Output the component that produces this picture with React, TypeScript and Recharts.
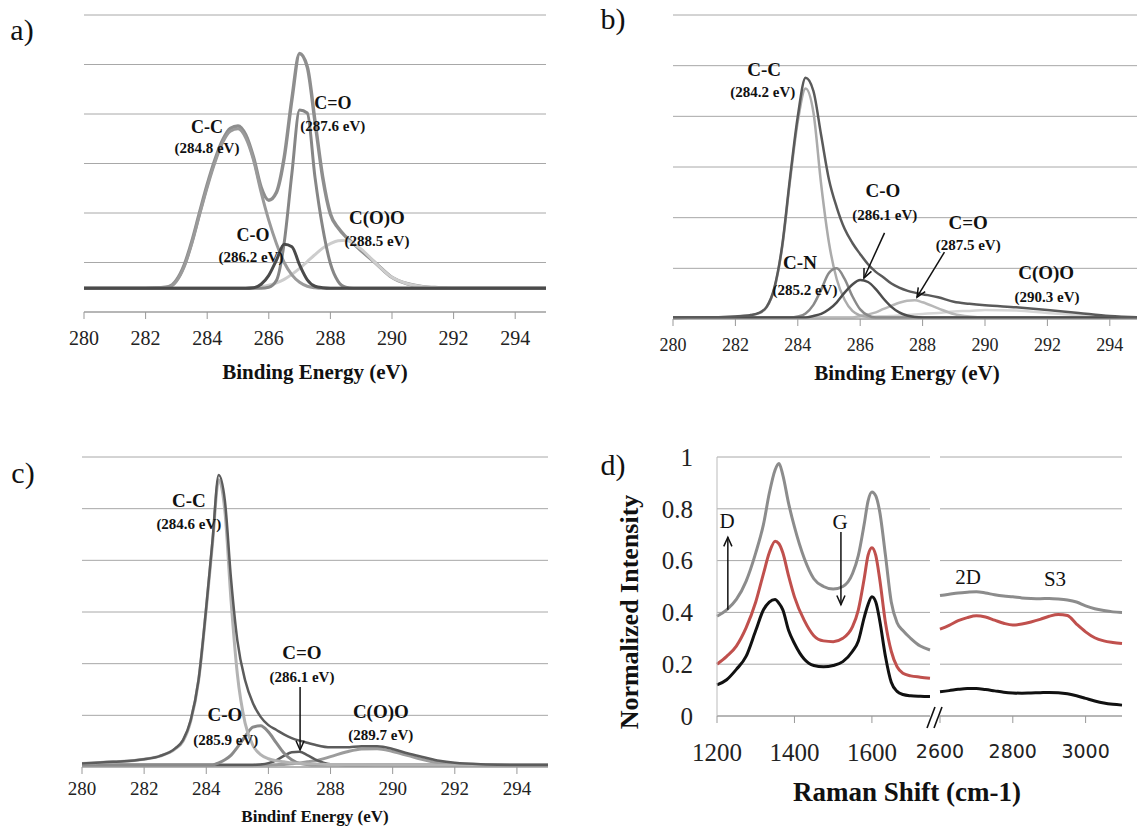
import React from "react";
import {
  LineChart,
  Line,
  XAxis,
  YAxis,
  CartesianGrid,
  ReferenceDot,
  ReferenceLine,
} from "recharts";

const serif = "'Liberation Serif', 'Times New Roman', serif";
const sans = "'DejaVu Sans', Verdana, sans-serif";

// ---- panel a : C1s fit (binding energy, arbitrary units) ----
const aEnergy = [280, 281, 282, 282.5, 282.75, 283, 283.25, 283.5, 283.75, 284, 284.25, 284.5, 284.75, 285, 285.25, 285.5, 285.75, 286, 286.25, 286.5, 286.75, 287, 287.25, 287.5, 287.75, 288, 288.25, 288.5, 288.75, 289, 289.5, 290, 290.5, 291, 291.5, 292, 293, 294, 295];
const aEnvelope = [0.48, 0.48, 0.48, 0.49, 0.51, 0.64, 0.94, 1.42, 2.0, 2.57, 3.07, 3.47, 3.71, 3.76, 3.58, 3.13, 2.52, 2.26, 2.42, 3.12, 4.3, 5.22, 4.95, 3.85, 2.72, 1.98, 1.7, 1.52, 1.38, 1.24, 0.97, 0.7, 0.57, 0.51, 0.49, 0.48, 0.48, 0.48, 0.48];
const aCC = [0.48, 0.48, 0.48, 0.49, 0.5, 0.62, 0.91, 1.38, 1.96, 2.52, 3.02, 3.42, 3.65, 3.7, 3.52, 3.08, 2.42, 1.85, 1.38, 1.0, 0.75, 0.6, 0.52, 0.49, 0.48, 0.48, 0.48, 0.48, 0.48, 0.48, 0.48, 0.48, 0.48, 0.48, 0.48, 0.48, 0.48, 0.48, 0.48];
const aCO = [0.48, 0.48, 0.48, 0.48, 0.48, 0.48, 0.48, 0.48, 0.48, 0.48, 0.48, 0.48, 0.48, 0.48, 0.48, 0.49, 0.56, 0.74, 1.05, 1.37, 1.32, 0.95, 0.65, 0.52, 0.49, 0.48, 0.48, 0.48, 0.48, 0.48, 0.48, 0.48, 0.48, 0.48, 0.48, 0.48, 0.48, 0.48, 0.48];
const aCdO = [0.48, 0.48, 0.48, 0.48, 0.48, 0.48, 0.48, 0.48, 0.48, 0.48, 0.48, 0.48, 0.48, 0.48, 0.48, 0.48, 0.48, 0.5, 0.64, 1.4, 2.8, 4.08, 4.02, 2.72, 1.7, 0.98, 0.62, 0.5, 0.48, 0.48, 0.48, 0.48, 0.48, 0.48, 0.48, 0.48, 0.48, 0.48, 0.48];
const aCOO = [0.48, 0.48, 0.48, 0.48, 0.48, 0.48, 0.48, 0.48, 0.48, 0.48, 0.48, 0.48, 0.48, 0.48, 0.48, 0.49, 0.51, 0.54, 0.59, 0.66, 0.76, 0.88, 1.02, 1.16, 1.29, 1.38, 1.44, 1.45, 1.38, 1.27, 0.97, 0.7, 0.57, 0.51, 0.49, 0.48, 0.48, 0.48, 0.48];

// ---- panel b ----
const bEnergy = [280, 281, 282, 282.5, 282.75, 283, 283.25, 283.5, 283.75, 284, 284.25, 284.5, 284.75, 285, 285.25, 285.5, 285.75, 286, 286.25, 286.5, 286.75, 287, 287.25, 287.5, 287.75, 288, 288.5, 289, 289.5, 290, 291, 292, 293, 294, 295];
const bEnvelope = [0.02, 0.03, 0.05, 0.08, 0.12, 0.24, 0.62, 1.45, 2.78, 4.0, 4.76, 4.5, 3.62, 2.75, 2.2, 1.78, 1.5, 1.28, 1.08, 0.93, 0.82, 0.7, 0.62, 0.56, 0.52, 0.49, 0.43, 0.34, 0.3, 0.27, 0.23, 0.18, 0.12, 0.06, 0.03];
const bCC = [0.02, 0.03, 0.05, 0.08, 0.11, 0.23, 0.6, 1.42, 2.72, 3.9, 4.55, 4.08, 2.65, 1.5, 0.78, 0.38, 0.16, 0.07, 0.04, 0.03, 0.03, 0.03, 0.03, 0.03, 0.03, 0.03, 0.03, 0.03, 0.03, 0.03, 0.03, 0.03, 0.03, 0.03, 0.03];
const bCN = [0.03, 0.03, 0.03, 0.03, 0.03, 0.03, 0.03, 0.03, 0.03, 0.05, 0.11, 0.28, 0.58, 0.91, 1.0, 0.79, 0.45, 0.19, 0.07, 0.03, 0.03, 0.03, 0.03, 0.03, 0.03, 0.03, 0.03, 0.03, 0.03, 0.03, 0.03, 0.03, 0.03, 0.03, 0.03];
const bCO = [0.03, 0.03, 0.03, 0.03, 0.03, 0.03, 0.03, 0.03, 0.03, 0.03, 0.03, 0.06, 0.1, 0.19, 0.33, 0.52, 0.68, 0.77, 0.73, 0.59, 0.4, 0.24, 0.13, 0.07, 0.04, 0.03, 0.03, 0.03, 0.03, 0.03, 0.03, 0.03, 0.03, 0.03, 0.03];
const bCdO = [0.03, 0.03, 0.03, 0.03, 0.03, 0.03, 0.03, 0.03, 0.03, 0.03, 0.03, 0.03, 0.03, 0.03, 0.03, 0.03, 0.03, 0.06, 0.09, 0.13, 0.2, 0.26, 0.32, 0.36, 0.37, 0.33, 0.21, 0.1, 0.05, 0.03, 0.03, 0.03, 0.03, 0.03, 0.03];
const bCOO = [0.03, 0.03, 0.03, 0.03, 0.03, 0.03, 0.03, 0.03, 0.03, 0.03, 0.03, 0.03, 0.03, 0.03, 0.03, 0.03, 0.03, 0.04, 0.045, 0.05, 0.055, 0.06, 0.07, 0.08, 0.09, 0.1, 0.12, 0.15, 0.16, 0.18, 0.17, 0.12, 0.075, 0.05, 0.035];

// ---- panel c ----
const cEnergy = [280, 281, 282, 282.5, 283, 283.25, 283.5, 283.75, 284, 284.2, 284.4, 284.6, 284.8, 285, 285.25, 285.5, 285.75, 286, 286.25, 286.5, 286.75, 287, 287.25, 287.5, 288, 288.5, 289, 289.5, 290, 290.5, 291, 291.5, 292, 293, 294, 295];
const cEnvelope = [0.07, 0.1, 0.15, 0.21, 0.36, 0.52, 0.91, 1.68, 3.1, 4.38, 5.65, 5.15, 3.62, 2.45, 1.68, 1.24, 0.97, 0.81, 0.72, 0.63, 0.56, 0.51, 0.47, 0.43, 0.38, 0.38, 0.4, 0.4, 0.35, 0.26, 0.19, 0.12, 0.08, 0.05, 0.04, 0.04];
const cCC = [0.07, 0.1, 0.15, 0.21, 0.35, 0.5, 0.89, 1.66, 3.06, 4.32, 5.56, 4.95, 3.2, 1.8, 0.85, 0.42, 0.24, 0.16, 0.12, 0.1, 0.08, 0.07, 0.06, 0.06, 0.05, 0.05, 0.05, 0.04, 0.04, 0.04, 0.04, 0.04, 0.04, 0.04, 0.04, 0.04];
const cCO = [0.04, 0.04, 0.04, 0.04, 0.04, 0.04, 0.04, 0.04, 0.04, 0.04, 0.08, 0.14, 0.23, 0.38, 0.59, 0.77, 0.8, 0.68, 0.47, 0.27, 0.14, 0.07, 0.05, 0.04, 0.04, 0.04, 0.04, 0.04, 0.04, 0.04, 0.04, 0.04, 0.04, 0.04, 0.04, 0.04];
const cCdO = [0.04, 0.04, 0.04, 0.04, 0.04, 0.04, 0.04, 0.04, 0.04, 0.04, 0.04, 0.04, 0.04, 0.04, 0.04, 0.04, 0.05, 0.075, 0.13, 0.215, 0.286, 0.294, 0.23, 0.147, 0.053, 0.04, 0.04, 0.04, 0.04, 0.04, 0.04, 0.04, 0.04, 0.04, 0.04, 0.04];
const cCOO = [0.04, 0.04, 0.04, 0.04, 0.04, 0.04, 0.04, 0.04, 0.04, 0.04, 0.04, 0.04, 0.04, 0.04, 0.04, 0.04, 0.04, 0.04, 0.045, 0.05, 0.065, 0.08, 0.1, 0.12, 0.2, 0.29, 0.35, 0.355, 0.3, 0.22, 0.14, 0.08, 0.056, 0.04, 0.04, 0.04];

// ---- panel d : Raman ----
const dLeftShift = [1200, 1225, 1250, 1275, 1300, 1320, 1335, 1350, 1360, 1370, 1385, 1400, 1425, 1450, 1475, 1500, 1525, 1550, 1565, 1580, 1590, 1600, 1610, 1620, 1635, 1650, 1665, 1680, 1700, 1725, 1750];
const dGrayLeft = [0.385, 0.41, 0.45, 0.52, 0.63, 0.74, 0.86, 0.95, 0.975, 0.93, 0.82, 0.73, 0.61, 0.53, 0.5, 0.49, 0.5, 0.55, 0.62, 0.74, 0.83, 0.865, 0.85, 0.79, 0.62, 0.44, 0.36, 0.33, 0.3, 0.27, 0.255];
const dRedLeft = [0.2, 0.23, 0.27, 0.34, 0.44, 0.55, 0.63, 0.675, 0.665, 0.63, 0.54, 0.46, 0.37, 0.31, 0.29, 0.287, 0.3, 0.345, 0.41, 0.53, 0.62, 0.65, 0.62, 0.53, 0.36, 0.25, 0.19, 0.165, 0.155, 0.15, 0.146];
const dBlackLeft = [0.12, 0.14, 0.18, 0.23, 0.33, 0.41, 0.44, 0.45, 0.435, 0.41, 0.33, 0.28, 0.22, 0.195, 0.19, 0.195, 0.21, 0.25, 0.29, 0.38, 0.43, 0.46, 0.44, 0.37, 0.23, 0.13, 0.095, 0.083, 0.078, 0.076, 0.075];
const dRightShift = [2600, 2625, 2650, 2675, 2700, 2725, 2750, 2775, 2800, 2825, 2850, 2875, 2900, 2925, 2950, 2975, 3000, 3025, 3050, 3075, 3100];
const dGrayRight = [0.465, 0.47, 0.475, 0.478, 0.48, 0.475, 0.468, 0.463, 0.46, 0.456, 0.454, 0.453, 0.454, 0.452, 0.448, 0.44, 0.425, 0.414, 0.407, 0.402, 0.4];
const dRedRight = [0.335, 0.35, 0.368, 0.38, 0.387, 0.382, 0.37, 0.358, 0.351, 0.355, 0.363, 0.373, 0.385, 0.392, 0.388, 0.355, 0.325, 0.302, 0.29, 0.284, 0.28];
const dBlackRight = [0.094, 0.098, 0.103, 0.106, 0.106, 0.102, 0.097, 0.092, 0.089, 0.088, 0.089, 0.09, 0.091, 0.09, 0.086, 0.078, 0.068, 0.058, 0.05, 0.045, 0.042];

const energyTicks = [280, 282, 284, 286, 288, 290, 292, 294];
const gridLevels = [0, 1, 2, 3, 4, 5, 6];
const intensityTicks = [0, 0.2, 0.4, 0.6, 0.8, 1];

const buildRows = (xs: number[], cols: Record<string, number[]>) =>
  xs.map((x, i) => {
    const row: Record<string, number> = { x };
    Object.keys(cols).forEach((k) => (row[k] = cols[k][i]));
    return row;
  });

const aRows = buildRows(aEnergy, { sum: aEnvelope, cc: aCC, co: aCO, cdo: aCdO, coo: aCOO });
const bRows = buildRows(bEnergy, { sum: bEnvelope, cc: bCC, cn: bCN, co: bCO, cdo: bCdO, coo: bCOO });
const cRows = buildRows(cEnergy, { sum: cEnvelope, cc: cCC, co: cCO, cdo: cCdO, coo: cCOO });
const dLeftRows = buildRows(dLeftShift, { gray: dGrayLeft, red: dRedLeft, black: dBlackLeft });
const dRightRows = buildRows(dRightShift, { gray: dGrayRight, red: dRedRight, black: dBlackRight });

// line styles (drawing order)
const aLines = [
  { key: "sum", color: "#8e8e8e", width: 3.5 },
  { key: "coo", color: "#cdcdcd", width: 3 },
  { key: "cc", color: "#9a9a9a", width: 3 },
  { key: "cdo", color: "#868686", width: 3 },
  { key: "co", color: "#4a4a4a", width: 3 },
];
const bLines = [
  { key: "coo", color: "#d6d6d6", width: 2.5 },
  { key: "cdo", color: "#b8b8b8", width: 2.5 },
  { key: "cc", color: "#ababab", width: 2.5 },
  { key: "cn", color: "#8a8a8a", width: 2.5 },
  { key: "co", color: "#4d4d4d", width: 2.5 },
  { key: "sum", color: "#5a5a5a", width: 2.5 },
];
const cLines = [
  { key: "coo", color: "#9c9c9c", width: 3 },
  { key: "cdo", color: "#5a5a5a", width: 2.5 },
  { key: "co", color: "#8a8a8a", width: 3 },
  { key: "cc", color: "#b3b3b3", width: 3 },
  { key: "sum", color: "#5c5c5c", width: 2.5 },
];
const ramanLines = [
  { key: "gray", color: "#8c8c8c", width: 3 },
  { key: "red", color: "#c0504d", width: 3 },
  { key: "black", color: "#111111", width: 3 },
];

// annotations, in data coordinates
const aNotes = [
  { text: "C-C", x: 283.99, y: 3.74, size: 18 },
  { text: "(284.8 eV)", x: 283.99, y: 3.31, size: 15 },
  { text: "C=O", x: 288.08, y: 4.22, size: 18 },
  { text: "(287.6 eV)", x: 288.08, y: 3.76, size: 15 },
  { text: "C-O", x: 285.49, y: 1.56, size: 18 },
  { text: "(286.2 eV)", x: 285.42, y: 1.11, size: 15 },
  { text: "C(O)O", x: 289.51, y: 1.9, size: 19 },
  { text: "(288.5 eV)", x: 289.51, y: 1.43, size: 15 },
];
const bNotes = [
  { text: "C-C", x: 282.92, y: 4.93, size: 19 },
  { text: "(284.2 eV)", x: 282.88, y: 4.48, size: 15 },
  { text: "C-O", x: 286.73, y: 2.53, size: 19 },
  { text: "(286.1 eV)", x: 286.79, y: 2.05, size: 15 },
  { text: "C=O", x: 289.46, y: 1.91, size: 19 },
  { text: "(287.5 eV)", x: 289.46, y: 1.46, size: 15 },
  { text: "C-N", x: 284.07, y: 1.11, size: 19 },
  { text: "(285.2 eV)", x: 284.23, y: 0.57, size: 15 },
  { text: "C(O)O", x: 291.96, y: 0.91, size: 19 },
  { text: "(290.3 eV)", x: 291.99, y: 0.43, size: 15 },
];
const cNotes = [
  { text: "C-C", x: 283.44, y: 5.15, size: 19 },
  { text: "(284.6 eV)", x: 283.44, y: 4.7, size: 15 },
  { text: "C=O", x: 287.08, y: 2.21, size: 19 },
  { text: "(286.1 eV)", x: 287.08, y: 1.74, size: 15 },
  { text: "C-O", x: 284.6, y: 1.01, size: 19 },
  { text: "(285.9 eV)", x: 284.63, y: 0.52, size: 15 },
  { text: "C(O)O", x: 289.62, y: 1.08, size: 19 },
  { text: "(289.7 eV)", x: 289.62, y: 0.62, size: 15 },
];
const bArrows = [
  [286.78, 1.7, 286.12, 0.81],
  [288.7, 1.32, 287.82, 0.43],
];
const cArrows = [[287.02, 1.55, 287.02, 0.33]];
const dLeftArrows = [
  [1228, 0.41, 1228, 0.69],
  [1520, 0.71, 1520, 0.43],
];
const dLeftNotes = [
  { text: "D", x: 1226, y: 0.753, size: 21 },
  { text: "G", x: 1518, y: 0.749, size: 21 },
];
const dRightNotes = [
  { text: "2D", x: 2677, y: 0.537, size: 21 },
  { text: "S3", x: 2916, y: 0.53, size: 21 },
];

const arrowShape = (p: any) => {
  const { x1, y1, x2, y2 } = p;
  const ang = Math.atan2(y2 - y1, x2 - x1);
  const len = 10;
  const spread = 0.42;
  const ax = x2 - len * Math.cos(ang - spread);
  const ay = y2 - len * Math.sin(ang - spread);
  const bx = x2 - len * Math.cos(ang + spread);
  const by = y2 - len * Math.sin(ang + spread);
  return (
    <g>
      <line x1={x1} y1={y1} x2={x2} y2={y2} stroke="#111" strokeWidth={1.5} />
      <polyline points={`${ax},${ay} ${x2},${y2} ${bx},${by}`} fill="none" stroke="#111" strokeWidth={1.5} />
    </g>
  );
};

const noteShape = (text: string, size: number, weight: string) => (p: any) => (
  <text
    x={p.cx}
    y={p.cy}
    textAnchor="middle"
    dominantBaseline="central"
    fontFamily={serif}
    fontSize={size}
    fontWeight={weight}
    fill="#111"
  >
    {text}
  </text>
);

// tick renderers with explicit font (axis text does not inherit the page font)
const bottomTick = (size: number, family: string) => (p: any) => (
  <text x={p.x} y={p.y} dy="0.71em" textAnchor="middle" fontSize={size} fontFamily={family} fill="#222">
    {p.payload.value}
  </text>
);
const leftTick = (size: number, family: string) => (p: any) => (
  <text x={p.x} y={p.y} dy="0.35em" textAnchor="end" fontSize={size} fontFamily={family} fill="#222">
    {String(p.payload.value)}
  </text>
);
const axisTitle = (text: string, size: number, offset: number) => (p: any) => {
  const vb = p.viewBox;
  return (
    <text
      x={vb.x + vb.width / 2}
      y={vb.y + vb.height - offset}
      textAnchor="middle"
      fontSize={size}
      fontWeight="bold"
      fontFamily={serif}
      fill="#111"
    >
      {text}
    </text>
  );
};

const renderNotes = (notes: { text: string; x: number; y: number; size: number }[], weight: string) =>
  notes.map((n, i) => (
    <ReferenceDot key={"n" + i} x={n.x} y={n.y} r={0} ifOverflow="visible" shape={noteShape(n.text, n.size, weight)} />
  ));

const renderArrows = (arrows: number[][]) =>
  arrows.map((a, i) => (
    <ReferenceLine
      key={"a" + i}
      segment={[{ x: a[0], y: a[1] }, { x: a[2], y: a[3] }]}
      ifOverflow="visible"
      shape={arrowShape}
    />
  ));

const renderLines = (lines: { key: string; color: string; width: number }[]) =>
  lines.map((l) => (
    <Line
      key={l.key}
      type="monotone"
      dataKey={l.key}
      stroke={l.color}
      strokeWidth={l.width}
      dot={false}
      activeDot={false}
      isAnimationActive={false}
    />
  ));

interface XpsProps {
  left: number;
  top: number;
  width: number;
  height: number;
  margin: { top: number; right: number; bottom: number; left: number };
  axisHeight: number;
  rows: Record<string, number>[];
  lines: { key: string; color: string; width: number }[];
  notes: { text: string; x: number; y: number; size: number }[];
  arrows: number[][];
  tickSize: number;
  tickGap: number;
  title: string;
  titleSize: number;
  titleOffset: number;
}

const XpsPanel = (p: XpsProps) => (
  <div style={{ position: "absolute", left: p.left, top: p.top }}>
    <LineChart width={p.width} height={p.height} data={p.rows} margin={p.margin}>
      <CartesianGrid vertical={false} stroke="#a8a8a8" />
      <XAxis
        type="number"
        dataKey="x"
        domain={[280, 295]}
        ticks={energyTicks}
        interval={0}
        height={p.axisHeight}
        tickSize={7}
        tickMargin={p.tickGap}
        axisLine={{ stroke: "#999" }}
        tickLine={{ stroke: "#999" }}
        tick={bottomTick(p.tickSize, serif)}
        label={axisTitle(p.title, p.titleSize, p.titleOffset)}
      />
      <YAxis hide domain={[0, 6]} ticks={gridLevels} />
      {renderLines(p.lines)}
      {renderNotes(p.notes, "bold")}
      {renderArrows(p.arrows)}
    </LineChart>
  </div>
);

const Tag = ({ text, x, y }: { text: string; x: number; y: number }) => (
  <div
    style={{
      position: "absolute",
      left: x,
      top: y,
      transform: "translate(-50%, -50%)",
      fontFamily: serif,
      fontSize: 30,
      lineHeight: 1,
      color: "#111",
    }}
  >
    {text}
  </div>
);

export default function App() {
  return (
    <div
      style={{
        position: "fixed",
        left: 0,
        top: 0,
        width: 1137,
        height: 830,
        overflow: "hidden",
        background: "#fff",
      }}
    >
      <XpsPanel
        left={0}
        top={0}
        width={570}
        height={400}
        margin={{ top: 15, right: 24, bottom: 13, left: 84 }}
        axisHeight={75}
        rows={aRows}
        lines={aLines}
        notes={aNotes}
        arrows={[]}
        tickSize={20}
        tickGap={12}
        title="Binding Energy (eV)"
        titleSize={21}
        titleOffset={8}
      />
      <XpsPanel
        left={570}
        top={0}
        width={580}
        height={400}
        margin={{ top: 15, right: 9, bottom: 11, left: 103 }}
        axisHeight={70}
        rows={bRows}
        lines={bLines}
        notes={bNotes}
        arrows={bArrows}
        tickSize={18}
        tickGap={12}
        title="Binding Energy (eV)"
        titleSize={21}
        titleOffset={9}
      />
      <XpsPanel
        left={0}
        top={430}
        width={570}
        height={400}
        margin={{ top: 27, right: 22, bottom: 3, left: 82 }}
        axisHeight={60}
        rows={cRows}
        lines={cLines}
        notes={cNotes}
        arrows={cArrows}
        tickSize={19}
        tickGap={8}
        title="Bindinf Energy (eV)"
        titleSize={17}
        titleOffset={5}
      />

      {/* d) Raman, low-shift part */}
      <div style={{ position: "absolute", left: 590, top: 430 }}>
        <LineChart width={350} height={400} data={dLeftRows} margin={{ top: 27, right: 10, bottom: 74, left: 20 }}>
          <CartesianGrid vertical={false} stroke="#a8a8a8" />
          <XAxis
            type="number"
            dataKey="x"
            domain={[1200, 1750]}
            ticks={[1200, 1400, 1600]}
            interval={0}
            height={40}
            tickSize={7}
            tickMargin={20}
            axisLine={{ stroke: "#999" }}
            tickLine={{ stroke: "#999" }}
            tick={bottomTick(25, serif)}
          />
          <YAxis
            domain={[0, 1]}
            ticks={intensityTicks}
            interval={0}
            width={107}
            tickSize={0}
            tickMargin={24}
            tickLine={false}
            axisLine={{ stroke: "#bbb" }}
            tick={leftTick(25, serif)}
          />
          {renderLines(ramanLines)}
          {renderNotes(dLeftNotes, "normal")}
          {renderArrows(dLeftArrows)}
        </LineChart>
      </div>

      {/* d) Raman, high-shift part */}
      <div style={{ position: "absolute", left: 880, top: 430 }}>
        <LineChart width={257} height={400} data={dRightRows} margin={{ top: 27, right: 15, bottom: 74, left: 60 }}>
          <CartesianGrid vertical={false} stroke="#a8a8a8" />
          <XAxis
            type="number"
            dataKey="x"
            domain={[2600, 3100]}
            ticks={[2600, 2800, 3000]}
            interval={0}
            height={40}
            tickSize={7}
            tickMargin={22}
            axisLine={{ stroke: "#999" }}
            tickLine={{ stroke: "#999" }}
            tick={bottomTick(19, sans)}
          />
          <YAxis hide domain={[0, 1]} ticks={intensityTicks} />
          {renderLines(ramanLines)}
          {renderNotes(dRightNotes, "normal")}
        </LineChart>
      </div>

      {/* axis break mark */}
      <svg style={{ position: "absolute", left: 920, top: 702 }} width={30} height={32}>
        <line x1={7} y1={26} x2={15} y2={5} stroke="#111" strokeWidth={1.6} />
        <line x1={14} y1={26} x2={22} y2={5} stroke="#111" strokeWidth={1.6} />
      </svg>

      <div
        style={{
          position: "absolute",
          left: 630,
          top: 612,
          transform: "translate(-50%, -50%) rotate(-90deg)",
          fontFamily: serif,
          fontWeight: "bold",
          fontSize: 26,
          whiteSpace: "nowrap",
          color: "#111",
          lineHeight: 1,
        }}
      >
        Normalized Intensity
      </div>
      <div
        style={{
          position: "absolute",
          left: 907,
          top: 792,
          transform: "translate(-50%, -50%)",
          fontFamily: serif,
          fontWeight: "bold",
          fontSize: 27,
          whiteSpace: "nowrap",
          color: "#111",
          lineHeight: 1,
        }}
      >
        Raman Shift (cm-1)
      </div>

      <Tag text="a)" x={22} y={30} />
      <Tag text="b)" x={613} y={19} />
      <Tag text="c)" x={23} y={473} />
      <Tag text="d)" x={613} y={465} />
    </div>
  );
}
